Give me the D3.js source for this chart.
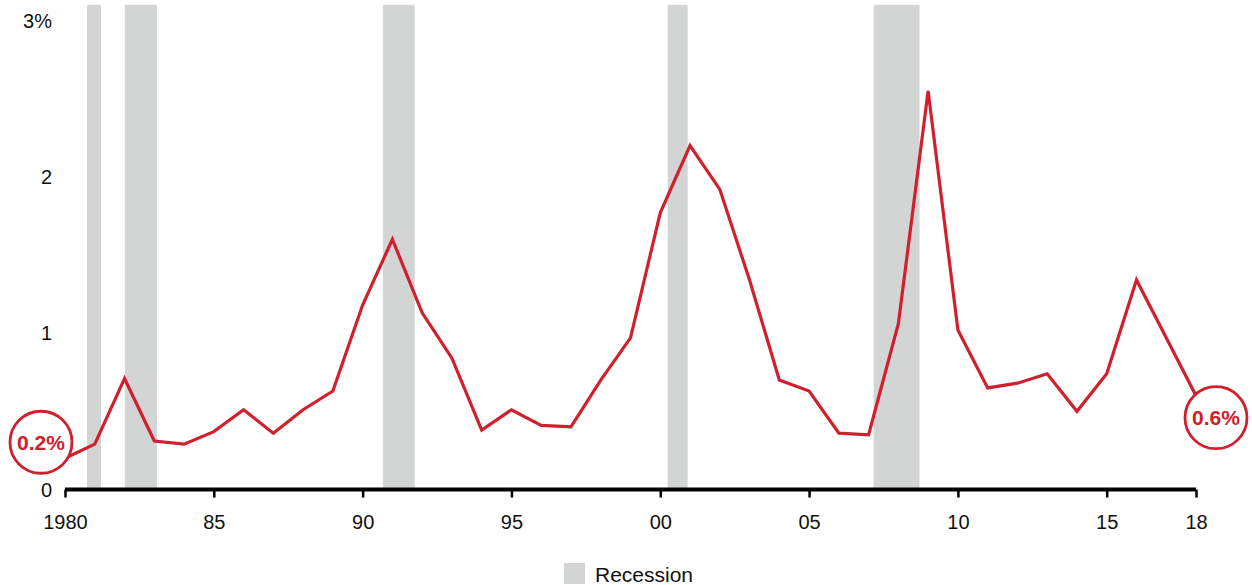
<!DOCTYPE html>
<html>
<head>
<meta charset="utf-8">
<script src="https://cdn.jsdelivr.net/npm/d3@7"></script>
<style>
  body { margin: 0; background: #fff; }
  text { font-family: "Liberation Sans", Arial, sans-serif; }
</style>
</head>
<body>
<div id="chart"></div>
<script>
// annual values, percent
var years = d3.range(1980, 2019);
var values = [0.20, 0.29, 0.71, 0.31, 0.29, 0.37, 0.51, 0.36, 0.51, 0.63,
              1.18, 1.60, 1.13, 0.84, 0.38, 0.51, 0.41, 0.40, 0.70, 0.97,
              1.77, 2.20, 1.92, 1.34, 0.70, 0.63, 0.36, 0.35, 1.06, 2.55,
              1.02, 0.65, 0.68, 0.74, 0.50, 0.74, 1.34, 0.97, 0.60];

// recession bands (start, end) in decimal years
var recessionStart = [1980.74, 1982.01, 1990.68, 2000.25, 2007.17];
var recessionEnd   = [1981.21, 1983.09, 1991.75, 2000.92, 2008.71];

var xTicks = [1980, 1985, 1990, 1995, 2000, 2005, 2010, 2015, 2018];
var xTickLabels = ["1980", "85", "90", "95", "00", "05", "10", "15", "18"];
var yTicks = [0, 1, 2, 3];
var yTickLabels = ["0", "1", "2", "3%"];

var callouts = [{year: 1980, label: "0.2%", dx: -24, dy: -16},
                {year: 2018, label: "0.6%", dx: 20, dy: 22}];

var width = 1252, height = 585;
var red = "#d0202e", grey = "#d3d4d4";

var svg = d3.select("#chart").append("svg")
    .attr("width", width)
    .attr("height", height);

var x = d3.scaleLinear().domain([1980, 2018]).range([65, 1196]);
var y = d3.scaleLinear().domain([0, 3]).range([489.5, 20.5]);

var data = years.map(function (yr, i) { return {year: yr, value: values[i]}; });

// recession shading
svg.selectAll(".recession").data(recessionStart)
    .enter()
    .append("rect")
    .attr("class", "recession")
    .attr("x", function (d) { return x(d); })
    .attr("width", function (d, i) { return x(recessionEnd[i]) - x(d); })
    .attr("y", y(3.1))
    .attr("height", y(0) - y(3.1))
    .attr("fill", grey);

// y labels, no gridlines
svg.selectAll(".ylabel").data(yTicks)
    .enter()
    .append("text")
    .attr("class", "ylabel")
    .attr("x", 52)
    .attr("y", function (d) { return y(d); })
    .attr("dy", "0.36em")
    .attr("text-anchor", "end")
    .attr("font-size", 20)
    .attr("fill", "#111")
    .text(function (d, i) { return yTickLabels[i]; });

// line
var line = d3.line()
    .x(function (d) { return x(d.year); })
    .y(function (d) { return y(d.value); });

svg.append("path")
    .datum(data)
    .attr("d", line)
    .attr("fill", "none")
    .attr("stroke", red)
    .attr("stroke-width", 3.2)
    .attr("stroke-linejoin", "miter");

// x axis
var xAxis = d3.axisBottom(x)
    .tickValues(xTicks)
    .tickSize(8)
    .tickFormat(function (d, i) { return xTickLabels[i]; });

var gx = svg.append("g")
    .attr("transform", "translate(0," + y(0) + ")")
    .call(xAxis);

gx.select(".domain")
    .attr("stroke", "#000")
    .attr("stroke-width", 4)
    .attr("d", "M" + x(1980) + ",0H" + x(2018));
gx.selectAll(".tick line")
    .attr("stroke", "#000")
    .attr("stroke-width", 2.5);
gx.selectAll(".tick text")
    .attr("y", 25)
    .attr("dy", "0.71em")
    .attr("font-size", 20)
    .attr("font-family", "Liberation Sans, Arial, sans-serif")
    .attr("fill", "#111");

// callout circles
var callG = svg.selectAll(".callout").data(callouts)
    .enter()
    .append("g")
    .attr("class", "callout")
    .attr("transform", function (d) {
        var v = values[years.indexOf(d.year)];
        return "translate(" + (x(d.year) + d.dx) + "," + (y(v) + d.dy) + ")";
    });

callG.append("circle")
    .attr("r", 31)
    .attr("fill", "#fff")
    .attr("stroke", red)
    .attr("stroke-width", 2.8);

callG.append("text")
    .attr("text-anchor", "middle")
    .attr("dy", "0.36em")
    .attr("font-size", 21)
    .attr("font-weight", "bold")
    .attr("fill", red)
    .text(function (d) { return d.label; });

// legend
var legend = svg.append("g").attr("transform", "translate(564,563)");
legend.append("rect")
    .attr("width", 21)
    .attr("height", 21)
    .attr("fill", grey);
legend.append("text")
    .attr("x", 31)
    .attr("y", 11)
    .attr("dy", "0.36em")
    .attr("font-size", 21)
    .attr("fill", "#111")
    .text("Recession");
</script>
</body>
</html>
